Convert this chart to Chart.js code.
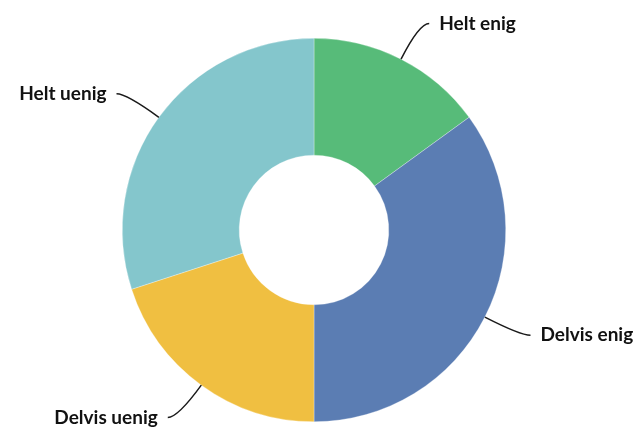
<!DOCTYPE html>
<html>
<head>
<meta charset="utf-8">
<script src="https://cdn.jsdelivr.net/npm/chart.js@4"></script>
<style>
  html, body { margin: 0; padding: 0; background: #fff; }
  #wrap { width: 635px; height: 430px; position: relative; }
</style>
</head>
<body>
<div id="wrap"><canvas id="donutChart"></canvas></div>
<script>
const categories = ['Helt enig', 'Delvis enig', 'Delvis uenig', 'Helt uenig'];
const values = [15, 35, 20, 30];
const colors = ['#57bb79', '#5b7db3', '#f0bf41', '#84c6cc'];

// leader lines + labels outside the ring
const leaderLabels = {
    id: 'leaderLabels',
    afterDatasetsDraw(chart) {
        const ctx = chart.ctx;
        const arcs = chart.getDatasetMeta(0).data;
        ctx.save();
        ctx.strokeStyle = '#1a1a1a';
        ctx.lineWidth = 1.5;
        ctx.fillStyle = '#111';
        ctx.font = 'bold 19px Lato';
        ctx.textBaseline = 'middle';
        arcs.forEach((arc, i) => {
            const p = arc.getProps(['x', 'y', 'startAngle', 'endAngle', 'outerRadius'], true);
            const mid = (p.startAngle + p.endAngle) / 2;
            const cos = Math.cos(mid), sin = Math.sin(mid);
            const side = cos >= 0 ? 1 : -1;
            const x0 = p.x + cos * p.outerRadius, y0 = p.y + sin * p.outerRadius;
            const r1 = p.outerRadius + 40;
            const x1 = p.x + cos * r1, y1 = p.y + sin * r1;
            const x2 = x1 + side * 10;
            ctx.beginPath();
            ctx.moveTo(x0, y0);
            ctx.quadraticCurveTo(x1, y1, x2, y1);
            ctx.stroke();
            ctx.textAlign = side > 0 ? 'left' : 'right';
            ctx.fillText(categories[i], x2 + side * 10, y1);
        });
        ctx.restore();
    }
};

new Chart(document.getElementById('donutChart'), {
    type: 'doughnut',
    data: {
        labels: categories,
        datasets: [{
            data: values,
            backgroundColor: colors,
            borderColor: 'rgba(255,255,255,0.6)',
            borderWidth: 0.5
        }]
    },
    options: {
        responsive: true,
        maintainAspectRatio: false,
        animation: false,
        cutout: '39%',
        layout: { padding: { top: 38, bottom: 8, left: 0, right: 7 } },
        plugins: {
            legend: { display: false },
            tooltip: { enabled: false }
        }
    },
    plugins: [leaderLabels]
});
</script>
</body>
</html>
